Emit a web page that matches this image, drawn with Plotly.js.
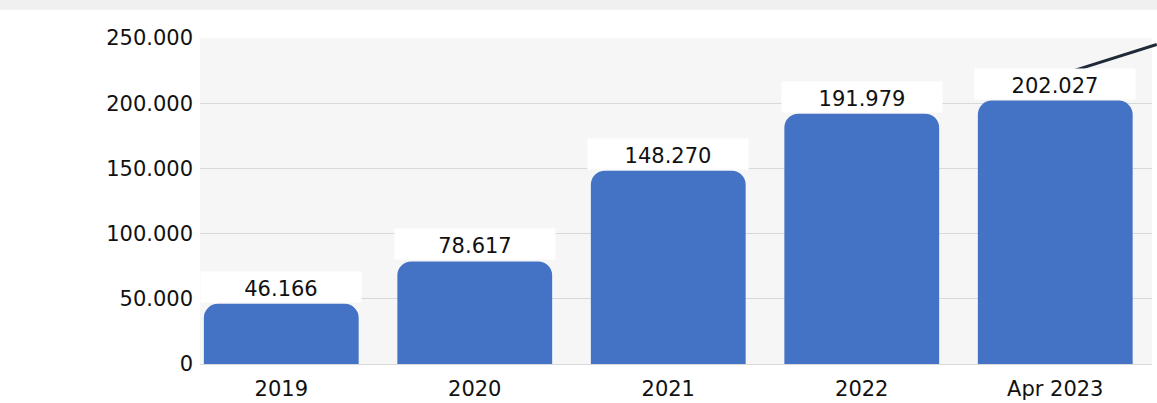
<!DOCTYPE html>
<html>
<head>
<meta charset="utf-8">
<script src="https://cdn.plot.ly/plotly-3.0.1.min.js"></script>
<style>html,body{margin:0;padding:0;background:#fff;}#chart{width:1157px;height:403px;}</style>
</head>
<body>
<div id="chart"></div>
<script>
const categories = ["2019", "2020", "2021", "2022", "Apr 2023"];
const values = [46166, 78617, 148270, 191979, 202027];
const yTicks = [0, 50000, 100000, 150000, 200000, 250000];

function fmt(v) {
  return String(v).replace(/\B(?=(\d{3})+(?!\d))/g, ".");
}

const font = "DejaVu Sans, Verdana, sans-serif";

const trace = {
  type: "bar",
  x: categories,
  y: values,
  marker: { color: "#4472C4", cornerradius: 14 },
  hoverinfo: "skip"
};

const annotations = categories.map((c, i) => ({
  x: i,
  y: values[i],
  xref: "x",
  yref: "y",
  text: fmt(values[i]),
  showarrow: false,
  xanchor: "center",
  yanchor: "bottom",
  yshift: 1,
  width: 158,
  height: 28,
  valign: "bottom",
  bgcolor: "#ffffff",
  font: { family: font, size: 21, color: "#111" }
}));

const layout = {
  width: 1157,
  height: 403,
  margin: { l: 200, r: 5, t: 38, b: 39 },
  paper_bgcolor: "#ffffff",
  plot_bgcolor: "#f6f6f7",
  bargap: 0.2,
  showlegend: false,
  xaxis: {
    type: "category",
    range: [-0.42, 4.5],
    showgrid: false,
    zeroline: false,
    showline: false,
    ticks: "",
    ticklabelstandoff: 10,
    tickfont: { family: font, size: 21, color: "#111" },
    fixedrange: true
  },
  yaxis: {
    range: [0, 250000],
    tickvals: yTicks,
    ticktext: yTicks.map(fmt),
    showgrid: true,
    gridcolor: "#d9d9dc",
    gridwidth: 1,
    zeroline: true,
    zerolinecolor: "#d9d9dc",
    showline: false,
    ticks: "",
    ticklabelstandoff: 6,
    tickfont: { family: font, size: 21, color: "#111" },
    fixedrange: true
  },
  shapes: [
    { type: "rect", xref: "paper", yref: "paper", x0: -0.22, x1: 1.01, y0: 1.087, y1: 1.12,
      fillcolor: "#f0f0f1", line: { width: 0 }, layer: "below" },
    { type: "line", xref: "paper", yref: "paper", x0: 0.907, x1: 1.005, y0: 0.89, y1: 0.98,
      line: { color: "#1f2a38", width: 3 } }
  ],
  annotations: annotations
};

Plotly.newPlot("chart", [trace], layout, { displayModeBar: false, staticPlot: true });
</script>
</body>
</html>
